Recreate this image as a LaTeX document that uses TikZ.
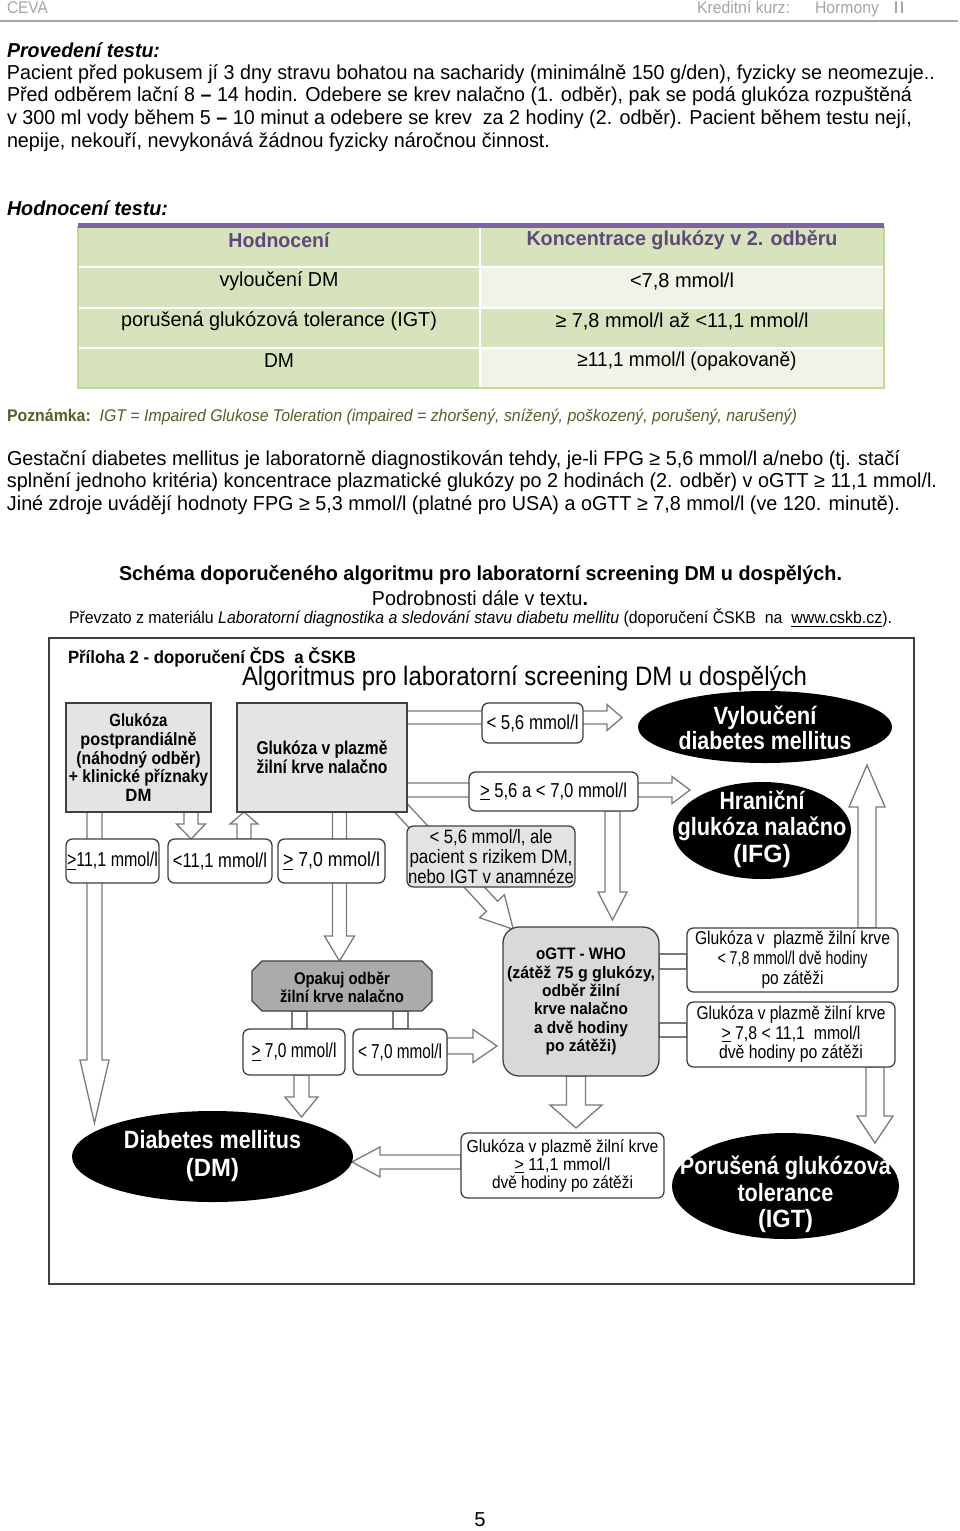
\documentclass[tikz,border=0pt]{standalone}
\usepackage{fontspec}
\setmainfont{Liberation Sans}
\usepackage{graphicx}
\usetikzlibrary{shapes.geometric}
\newlength\pxu \setlength\pxu{0.62pt}
\newcommand\fw[2]{\resizebox{#1\pxu}{\height}{#2}}
\newcommand\fs[2]{\fontsize{#1}{#2}\selectfont}
\definecolor{hdrgray}{HTML}{A6A6A6}
\definecolor{olivec}{HTML}{4F6228}
\definecolor{tgreen}{HTML}{D6E3BC}
\definecolor{tlight}{HTML}{EFF4E6}
\definecolor{tborder}{HTML}{C3D69B}
\definecolor{tpurple}{HTML}{8064A2}
\definecolor{thead}{HTML}{5F497A}
\definecolor{bline}{HTML}{404040}
\definecolor{aline}{HTML}{7A7A7A}
\definecolor{gfill}{HTML}{E4E4E4}
\definecolor{ofill}{HTML}{D9D9D9}
\definecolor{dfill}{HTML}{ABABAB}
\pgfdeclarelayer{arrows}
\pgfsetlayers{arrows,main}
\newcommand\vblock[6]{\draw[arr] ({#1-#4},#2) -- ({#1-#4},#6) -- ({#1-#5},#6) -- (#1,#3) -- ({#1+#5},#6) -- ({#1+#4},#6) -- ({#1+#4},#2) -- cycle;}
\newcommand\hblock[6]{\draw[arr] (#2,{#1-#4}) -- (#6,{#1-#4}) -- (#6,{#1-#5}) -- (#3,#1) -- (#6,{#1+#5}) -- (#6,{#1+#4}) -- (#2,{#1+#4}) -- cycle;}
\tikzset{
  txt/.style={inner sep=0pt, outer sep=0pt},
  lw/.style={txt, anchor=mid west},
  arr/.style={draw=aline, fill=white, line width=0.8pt, line join=miter},
  bx/.style={draw=bline, line width=0.8pt, inner sep=0pt, align=center},
  rbx/.style={bx, rounded corners=4pt, fill=white},
  sz/.style 2 args={minimum width=#1\pxu, minimum height=#2\pxu},
  ell/.style={ellipse, fill=black, draw=none, inner sep=0pt},
  elltxt/.style={txt, text=white, align=center, font=\bfseries\fs{15.5}{16.4}},
}
\begin{document}
\begin{tikzpicture}[x=0.62pt,y=-0.62pt]
\useasboundingbox (0,0) rectangle (960,1531);
\begin{pgfonlayer}{arrows}
\fill[white] (0,0) rectangle (960,1531);
\end{pgfonlayer}

% ---------- header ----------
\node[lw, text=hdrgray, font=\fs{10.5}{12}] (ceva) at (7,9) {\fw{41}{CEVA}};
\node[lw, text=hdrgray, font=\fs{10.5}{12}] (kurz) at (697,9) {\fw{93}{Kreditní kurz:}};
\node[lw, text=hdrgray, font=\fs{10.5}{12}] (horm) at (815,9) {\fw{64}{Hormony}};
\node[lw, text=hdrgray, font=\fs{10.5}{12}] (two) at (893,9) {\fw{12}{II}};
\draw[hdrgray, line width=1.3pt] (0,21) -- (958,21);

% ---------- Provedeni ----------
\node[lw, font=\bfseries\itshape\fs{12.5}{14}] (prov) at (7,53) {\fw{153}{Provedení testu:}};
\node[lw, font=\fs{12.5}{14}] (p1) at (7,75) {\fw{928}{Pacient před pokusem jí 3 dny stravu bohatou na sacharidy (minimálně 150 g/den), fyzicky se neomezuje..}};
\node[lw, font=\fs{12.5}{14}] (p2) at (7,97) {\fw{905}{Před odběrem lační 8 \textbf{–} 14 hodin. Odebere se krev nalačno (1. odběr), pak se podá glukóza rozpuštěná}};
\node[lw, font=\fs{12.5}{14}] (p3) at (7,120) {\fw{905}{v 300 ml vody během 5 \textbf{–} 10 minut a odebere se krev\ \ za 2 hodiny (2. odběr). Pacient během testu nejí,}};
\node[lw, font=\fs{12.5}{14}] (p4) at (7,143) {\fw{543}{nepije, nekouří, nevykonává žádnou fyzicky náročnou činnost.}};

% ---------- table ----------
\node[lw, font=\bfseries\itshape\fs{12.5}{14}] (hodn) at (7,211) {\fw{161}{Hodnocení testu:}};
\fill[tgreen] (78,227) rectangle (480,388);
\fill[tgreen] (480,227) rectangle (884,267);
\fill[tlight] (480,267) rectangle (884,308);
\fill[tgreen] (480,308) rectangle (884,348);
\fill[tlight] (480,348) rectangle (884,388);
\draw[white, line width=1pt] (78,267) -- (884,267) (78,308) -- (884,308) (78,348) -- (884,348) (480,227) -- (480,388);
\draw[tborder, line width=0.8pt] (78,227) rectangle (884,388);
\fill[tpurple] (78,222.5) rectangle (884,227.5);
\node[txt, text=thead, font=\bfseries\fs{12.5}{14}] (th1) at (279,240) {\fw{101}{Hodnocení}};
\node[txt, text=thead, font=\bfseries\fs{12.5}{14}] (th2) at (682,240) {\fw{311}{Koncentrace glukózy v 2. odběru}};
\node[txt, font=\fs{12.5}{14}] (t11) at (279,281) {\fw{119}{vyloučení DM}};
\node[txt, font=\fs{12.5}{14}] (t12) at (682,281) {\fw{104}{<7,8 mmol/l}};
\node[txt, font=\fs{12.5}{14}] (t21) at (279,321) {\fw{316}{porušená glukózová tolerance (IGT)}};
\node[txt, font=\fs{12.5}{14}] (t22) at (682,321) {\fw{253}{≥ 7,8 mmol/l až <11,1 mmol/l}};
\node[txt, font=\fs{12.5}{14}] (t31) at (279,361) {\fw{30}{DM}};
\node[txt, font=\fs{12.5}{14}] (t32) at (687,361) {\fw{219}{≥11,1 mmol/l (opakovaně)}};

% ---------- notes ----------
\node[lw, text=olivec, font=\fs{10.5}{12}] (pozn) at (7,417) {\fw{790}{\textbf{Poznámka:}\ \ \textit{IGT = Impaired Glukose Toleration (impaired = zhoršený, snížený, poškozený, porušený, narušený)}}};
\node[lw, font=\fs{12.5}{14}] (g1) at (7,461) {\fw{893}{Gestační diabetes mellitus je laboratorně diagnostikován tehdy, je-li FPG ≥ 5,6 mmol/l a/nebo (tj. stačí}};
\node[lw, font=\fs{12.5}{14}] (g2) at (7,483) {\fw{930}{splnění jednoho kritéria) koncentrace plazmatické glukózy po 2 hodinách (2. odběr) v oGTT ≥ 11,1 mmol/l.}};
\node[lw, font=\fs{12.5}{14}] (g3) at (7,506) {\fw{893}{Jiné zdroje uvádějí hodnoty FPG ≥ 5,3 mmol/l (platné pro USA) a oGTT ≥ 7,8 mmol/l (ve 120. minutě).}};
\node[txt, font=\bfseries\fs{12.5}{14}] (sch) at (480.5,575) {\fw{723}{Schéma doporučeného algoritmu pro laboratorní screening DM u dospělých.}};
\node[txt, font=\fs{12.5}{14}] (podr) at (480,598) {\fw{216}{Podrobnosti dále v textu\textbf{.}}};
\node[txt, font=\fs{10.5}{12}] (prevz) at (480.5,618) {\fw{823}{Převzato z materiálu \textit{Laboratorní diagnostika a sledování stavu diabetu mellitu} (doporučení ČSKB\ \ na\ \ \underline{www.cskb.cz}).}};

% ---------- flowchart frame & titles ----------
\draw[bline, line width=1.1pt] (49,638) rectangle (914,1284);
\node[lw, font=\bfseries\fs{11}{12}] (prilo) at (68,659) {\fw{288}{Příloha 2 - doporučení ČDS\ \ a ČSKB}};
\node[lw, font=\fs{16.5}{17}] (algo) at (242,681) {\fw{565}{Algoritmus pro laboratorní screening DM u dospělých}};

% ---------- block arrows (under the boxes) ----------
\begin{pgfonlayer}{arrows}
\vblock{94.5}{812}{1123}{7.5}{14.5}{1060}
\vblock{191}{812}{839}{7}{14.5}{824}
\vblock{244}{839}{812}{7}{14}{824}
\vblock{339.5}{812}{961}{7}{15}{936}
\hblock{717.5}{407}{622}{6.5}{13}{607}
\hblock{790}{407}{690}{7}{13.5}{672}
\begin{scope}[shift={(401,808)}, rotate=-47.2]
\draw[arr] (0pt,-4.65pt) -- (83pt,-4.65pt) -- (83pt,-10.5pt) -- (102.5pt,0pt) -- (83pt,10.5pt) -- (83pt,4.65pt) -- (0pt,4.65pt) -- cycle;
\end{scope}
\vblock{612.5}{811}{920}{7.5}{14.5}{892}
\draw[arr] (292,1011) rectangle (307,1029);
\draw[arr] (393,1011) rectangle (408,1029);
\vblock{301.5}{1075}{1117}{7.5}{16.5}{1097}
\hblock{1046}{447}{497}{8}{16.5}{473}
\draw[arr] (659,954) rectangle (687,969);
\draw[arr] (659,1023) rectangle (687,1037);
\vblock{867}{928}{765}{9}{18}{807}
\vblock{875}{1067}{1143}{9}{18}{1116}
\vblock{576}{1076}{1128}{9.5}{26}{1105}
\hblock{1162}{461}{352}{7}{15}{380}
\end{pgfonlayer}

% ---------- boxes ----------
\node[bx, fill=gfill, sz={145}{109}, font=\bfseries\fs{11}{11.6}] (post) at (138.5,757.5)
  {\fw{58}{Glukóza}\\\fw{116}{postprandiálně}\\\fw{124}{(náhodný odběr)}\\\fw{139}{+ klinické příznaky}\\\fw{26}{DM}};
\node[bx, fill=gfill, sz={170}{109}, font=\bfseries\fs{11.5}{11.8}] (fast) at (322,757.5)
  {\fw{131}{Glukóza v plazmě}\\\fw{131}{žilní krve nalačno}};
\node[rbx, sz={93}{44}, font=\fs{12.5}{13}] (ge111) at (112.5,861) {\fw{91}{\underline{>}11,1 mmol/l}};
\node[rbx, sz={104}{44}, font=\fs{12.5}{13}] (lt111) at (220,861) {\fw{94}{<11,1 mmol/l}};
\node[rbx, sz={107}{44}, font=\fs{12.5}{13}] (ge70) at (331.5,861) {\fw{97}{\underline{>} 7,0 mmol/l}};
\node[rbx, fill=gfill, sz={168}{61}, font=\fs{12}{12.4}] (risk) at (491,856.5)
  {\fw{123}{< 5,6 mmol/l, ale}\\\fw{163}{pacient s rizikem DM,}\\\fw{166}{nebo IGT v anamnéze}};
\node[rbx, sz={101}{40}, font=\fs{12.5}{13}] (lt56) at (532.5,723) {\fw{92}{< 5,6 mmol/l}};
\node[rbx, sz={169}{39}, font=\fs{12.5}{13}] (mid) at (553.5,791.5) {\fw{147}{\underline{>} 5,6 a < 7,0 mmol/l}};

\node[ell, sz={254}{72}] (vyl) at (765,727) {};
\node[elltxt, font=\bfseries\fs{15.5}{15.5}] (vylT) at (765,727.5) {\fw{103}{Vyloučení}\\\fw{173}{diabetes mellitus}};
\node[ell, sz={178}{97}] (ifg) at (762,830.5) {};
\node[elltxt] (ifgT) at (762,829) {\fw{85}{Hraniční}\\\fw{169}{glukóza nalačno}\\\fw{58}{(IFG)}};

\fill[dfill, draw=bline, line width=0.8pt] (262,961) -- (422,961) -- (432,971) -- (432,1001) -- (422,1011) -- (262,1011) -- (252,1001) -- (252,971) -- cycle;
\node[txt, align=center, sz={180}{50}, font=\bfseries\fs{10.5}{11.2}] (opak) at (342,987)
  {\fw{96}{Opakuj odběr}\\\fw{124}{žilní krve nalačno}};
\node[rbx, sz={102}{46}, font=\fs{12.5}{13}] (ge70b) at (294,1052) {\fw{85}{\underline{>} 7,0 mmol/l}};
\node[rbx, sz={94}{46}, font=\fs{12.5}{13}] (lt70b) at (400,1052) {\fw{84}{< 7,0 mmol/l}};

\node[bx, fill=ofill, rounded corners=10pt, sz={156}{149}, font=\bfseries\fs{10.3}{11.4}] (ogtt) at (581,1001.5)
  {\fw{90}{oGTT - WHO}\\\fw{148}{(zátěž 75 g glukózy,}\\\fw{78}{odběr žilní}\\\fw{94}{krve nalačno}\\\fw{94}{a dvě hodiny}\\\fw{71}{po zátěži)}};
\node[rbx, sz={211}{64}, font=\fs{11.5}{12.4}] (r78) at (792.5,960)
  {\fw{195}{Glukóza v\ \ plazmě žilní krve}\\\fw{150}{< 7,8 mmol/l dvě hodiny}\\\fw{62}{po zátěži}};
\node[rbx, sz={208}{65}, font=\fs{11.5}{12.1}] (r78b) at (791,1034.5)
  {\fw{189}{Glukóza v plazmě žilní krve}\\\fw{139}{\underline{>} 7,8 < 11,1\ \ mmol/l}\\\fw{144}{dvě hodiny po zátěži}};
\node[rbx, sz={203}{65}, font=\fs{10.8}{11.2}] (r111) at (562.5,1165.5)
  {\fw{192}{Glukóza v plazmě žilní krve}\\\fw{96}{\underline{>} 11,1 mmol/l}\\\fw{141}{dvě hodiny po zátěži}};

\node[ell, sz={281}{91}] (dm) at (212.5,1156.5) {};
\node[elltxt, font=\bfseries\fs{15.5}{17.4}] (dmT) at (212.5,1156) {\fw{177}{Diabetes mellitus}\\\fw{53}{(DM)}};
\node[ell, sz={227}{106}] (igt) at (785.5,1186) {};
\node[elltxt] (igtT) at (785.5,1194.5) {\fw{211}{Porušená glukózová}\\\fw{96}{tolerance}\\\fw{55}{(IGT)}};

% ---------- page number ----------
\node[txt, font=\fs{12.5}{14}] (pnum) at (480,1520) {5};
\end{tikzpicture}
\end{document}
